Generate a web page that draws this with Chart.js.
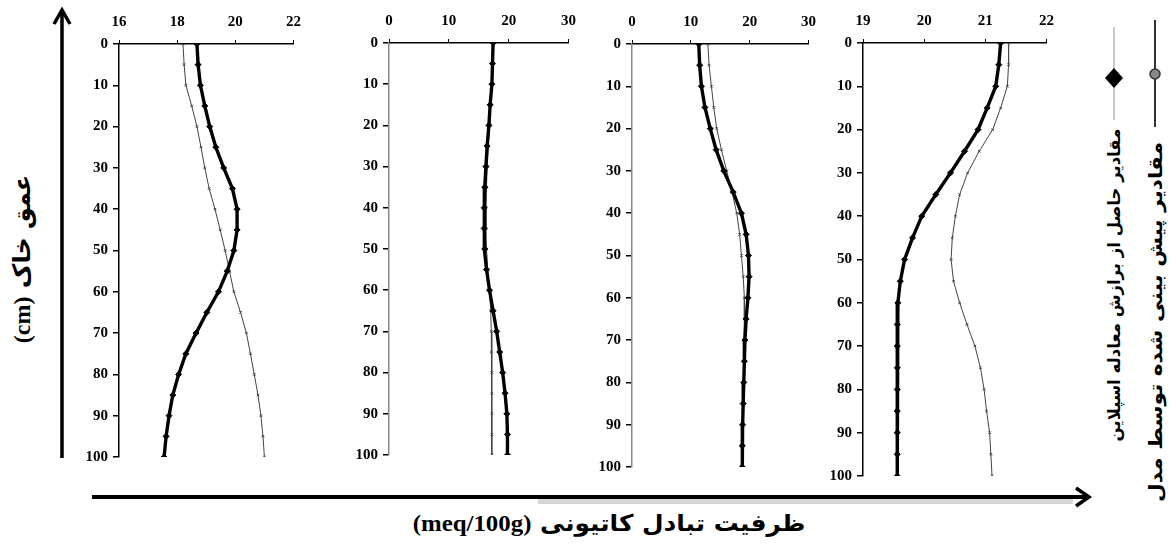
<!DOCTYPE html>
<html lang="fa">
<head>
<meta charset="utf-8">
<script src="https://cdn.jsdelivr.net/npm/chart.js@4.4.1/dist/chart.umd.min.js"></script>
<style>
  html, body { margin: 0; padding: 0; background: #fff; }
  #stage { position: relative; width: 1172px; height: 545px; overflow: hidden; background: #fff; }
  .panel { position: absolute; top: 0; }
  .rot { position: absolute; white-space: nowrap; direction: rtl;
         font-family: "DejaVu Sans", sans-serif; font-weight: bold; color: #000; }
  #xTitle { position: absolute; white-space: nowrap; direction: rtl; transform: translate(-50%, -50%) scaleX(1.08);
            font-family: "DejaVu Sans", sans-serif; font-weight: bold; font-size: 23px; color: #000; }
  #xTitle .unit { font-family: "Liberation Serif", serif; font-size: 23px; }
  #yTitle .unit { font-family: "Liberation Serif", serif; }
  svg { position: absolute; left: 0; top: 0; }
</style>
</head>
<body>
<div id="stage">
  <svg width="1172" height="545" id="arrows">
    <!-- depth arrow (pointing up) -->
    <line x1="62" y1="458" x2="62" y2="12" stroke="#000" stroke-width="3.5"/>
    <polyline points="54,24 62,10 70,24" fill="none" stroke="#000" stroke-width="3.5" stroke-linejoin="miter"/>
    <!-- CEC arrow (pointing right) -->
    <rect x="538" y="499" width="535" height="5" fill="#d6d6d6"/>
    <line x1="92" y1="497" x2="1086" y2="497" stroke="#000" stroke-width="4"/>
    <polyline points="1076,488 1089,497 1076,506" fill="none" stroke="#000" stroke-width="3.5"/>
    <!-- legend symbols -->
    <line x1="1114" y1="27" x2="1114" y2="120" stroke="#b4b4b4" stroke-width="1.5"/>
    <polygon points="1114,68 1123,78 1114,88 1105,78" fill="#000"/>
    <line x1="1155" y1="20" x2="1155" y2="127" stroke="#333" stroke-width="2"/>
    <circle cx="1155" cy="74" r="5" fill="#888" stroke="#333" stroke-width="1.5"/>
  </svg>
  <div class="rot" id="yTitle" style="left:22px; top:259px; font-size:24px; transform: translate(-50%, -50%) rotate(-90deg);">عمق خاک <span class="unit">(cm)</span></div>
  <div id="xTitle" style="left:609px; top:523px;">ظرفیت تبادل کاتیونی <span class="unit">(meq/100g)</span></div>
  <div class="rot" style="left:1114px; top:285px; font-size:16.5px; transform: translate(-50%, -50%) rotate(-90deg);">مقادیر حاصل از برازش معادله اسپلاین</div>
  <div class="rot" style="left:1155px; top:322px; font-size:18.5px; transform: translate(-50%, -50%) rotate(-90deg) scaleX(1.17);">مقادیر پیش بینی شده توسط مدل</div>
</div>
<script>
// Soil depth (cm) at which each profile value is given
const depths = [0,5,10,15,20,25,30,35,40,45,50,55,60,65,70,75,80,85,90,95,100];

// Profile 1
const p1Ticks  = [16, 18, 20, 22];
const p1Spline = [18.68,18.72,18.80,18.95,19.12,19.33,19.60,19.90,20.06,20.06,19.95,19.72,19.42,19.02,18.65,18.30,18.05,17.85,17.72,17.62,17.55];
const p1Model  = [18.20,18.24,18.30,18.50,18.68,18.82,18.95,19.10,19.30,19.48,19.65,19.80,19.95,20.18,20.38,20.52,20.65,20.78,20.88,20.95,21.00];

// Profile 2
const p2Ticks  = [0, 10, 20, 30];
const p2Spline = [17.4,17.3,17.2,16.9,16.7,16.4,16.2,16.0,15.9,15.9,16.0,16.3,16.8,17.4,18.0,18.5,19.0,19.4,19.7,19.8,19.8];
const p2Model  = [17.4,17.3,17.2,17.0,16.8,16.6,16.4,16.3,16.2,16.2,16.3,16.5,16.8,17.0,17.1,17.1,17.2,17.2,17.2,17.2,17.2];

// Profile 3
const p3Ticks  = [0, 10, 20, 30];
const p3Spline = [11.35,11.5,11.8,12.4,13.3,14.3,15.6,17.2,18.6,19.4,19.8,19.9,19.7,19.4,19.2,19.1,19.0,18.9,18.8,18.75,18.75];
const p3Model  = [12.9,13.1,13.5,13.9,14.4,15.2,16.1,17.0,17.8,18.3,18.6,18.9,19.1,19.1,19.0,19.0,19.0,18.9,18.8,18.75,18.75];

// Profile 4
const p4Ticks  = [19, 20, 21, 22];
const p4Spline = [21.25,21.22,21.17,21.03,20.88,20.66,20.43,20.19,19.96,19.81,19.68,19.61,19.57,19.56,19.56,19.56,19.56,19.56,19.56,19.56,19.56];
const p4Model  = [21.38,21.38,21.36,21.25,21.12,20.90,20.71,20.58,20.51,20.46,20.44,20.48,20.58,20.70,20.83,20.92,20.98,21.02,21.07,21.09,21.11];

const depthTicks = [0,10,20,30,40,50,60,70,80,90,100];

const tickFont = { family: "Liberation Serif", size: 15, weight: "bold" };

function toPoints(vals) {
  return vals.map((v, i) => ({ x: v, y: depths[i] }));
}

function makePanel(box, ticks, spline, model, yAxisColor) {
  const yW = 45, padR = 16, padB = 14;
  const div = document.createElement("div");
  div.className = "panel";
  const left = box.left - yW;
  div.style.left = left + "px";
  div.style.width = (box.right - left + padR) + "px";
  div.style.height = (box.bottom + padB) + "px";
  const cv = document.createElement("canvas");
  div.appendChild(cv);
  document.getElementById("stage").appendChild(div);

  new Chart(cv, {
    type: "scatter",
    data: {
      datasets: [
        {
          label: "مقادیر حاصل از برازش معادله اسپلاین",
          data: toPoints(spline),
          showLine: true,
          borderColor: "#000",
          backgroundColor: "#000",
          borderWidth: 3.4,
          pointStyle: "rectRot",
          pointRadius: 3,
          pointBorderWidth: 1,
          order: 1
        },
        {
          label: "مقادیر پیش بینی شده توسط مدل",
          data: toPoints(model),
          showLine: true,
          borderColor: "#444",
          backgroundColor: "#555",
          borderWidth: 1,
          pointStyle: "crossRot",
          pointRadius: 1.8,
          pointBorderWidth: 1,
          order: 2
        }
      ]
    },
    options: {
      responsive: true,
      maintainAspectRatio: false,
      animation: false,
      layout: { padding: { left: 0, right: padR, top: 0, bottom: padB } },
      plugins: { legend: { display: false }, tooltip: { enabled: false } },
      scales: {
        x: {
          type: "linear",
          position: "top",
          min: ticks[0],
          max: ticks[ticks.length - 1],
          afterBuildTicks: s => { s.ticks = ticks.map(v => ({ value: v })); },
          afterFit: s => { s.height = box.top; },
          grid: { drawOnChartArea: false, drawTicks: true, tickLength: 4, color: "#000", lineWidth: 1 },
          border: { display: true, color: "#000", width: 1.5 },
          ticks: { font: tickFont, color: "#000", padding: 9, maxRotation: 0 }
        },
        y: {
          type: "linear",
          reverse: true,
          min: 0,
          max: 100,
          afterBuildTicks: s => { s.ticks = depthTicks.map(v => ({ value: v })); },
          afterFit: s => { s.width = yW; },
          grid: { drawOnChartArea: false, drawTicks: true, tickLength: 6, color: "#000", lineWidth: 1.5 },
          border: { display: true, color: yAxisColor, width: 1.5 },
          ticks: { font: tickFont, color: "#000", padding: 5 }
        }
      }
    }
  });
}

makePanel({ left: 119, right: 294, top: 44, bottom: 457 }, p1Ticks, p1Spline, p1Model, "#000");
makePanel({ left: 389, right: 569, top: 43, bottom: 455 }, p2Ticks, p2Spline, p2Model, "#888");
makePanel({ left: 632, right: 809, top: 44, bottom: 467 }, p3Ticks, p3Spline, p3Model, "#888");
makePanel({ left: 863, right: 1047, top: 43, bottom: 476 }, p4Ticks, p4Spline, p4Model, "#000");
</script>
</body>
</html>
